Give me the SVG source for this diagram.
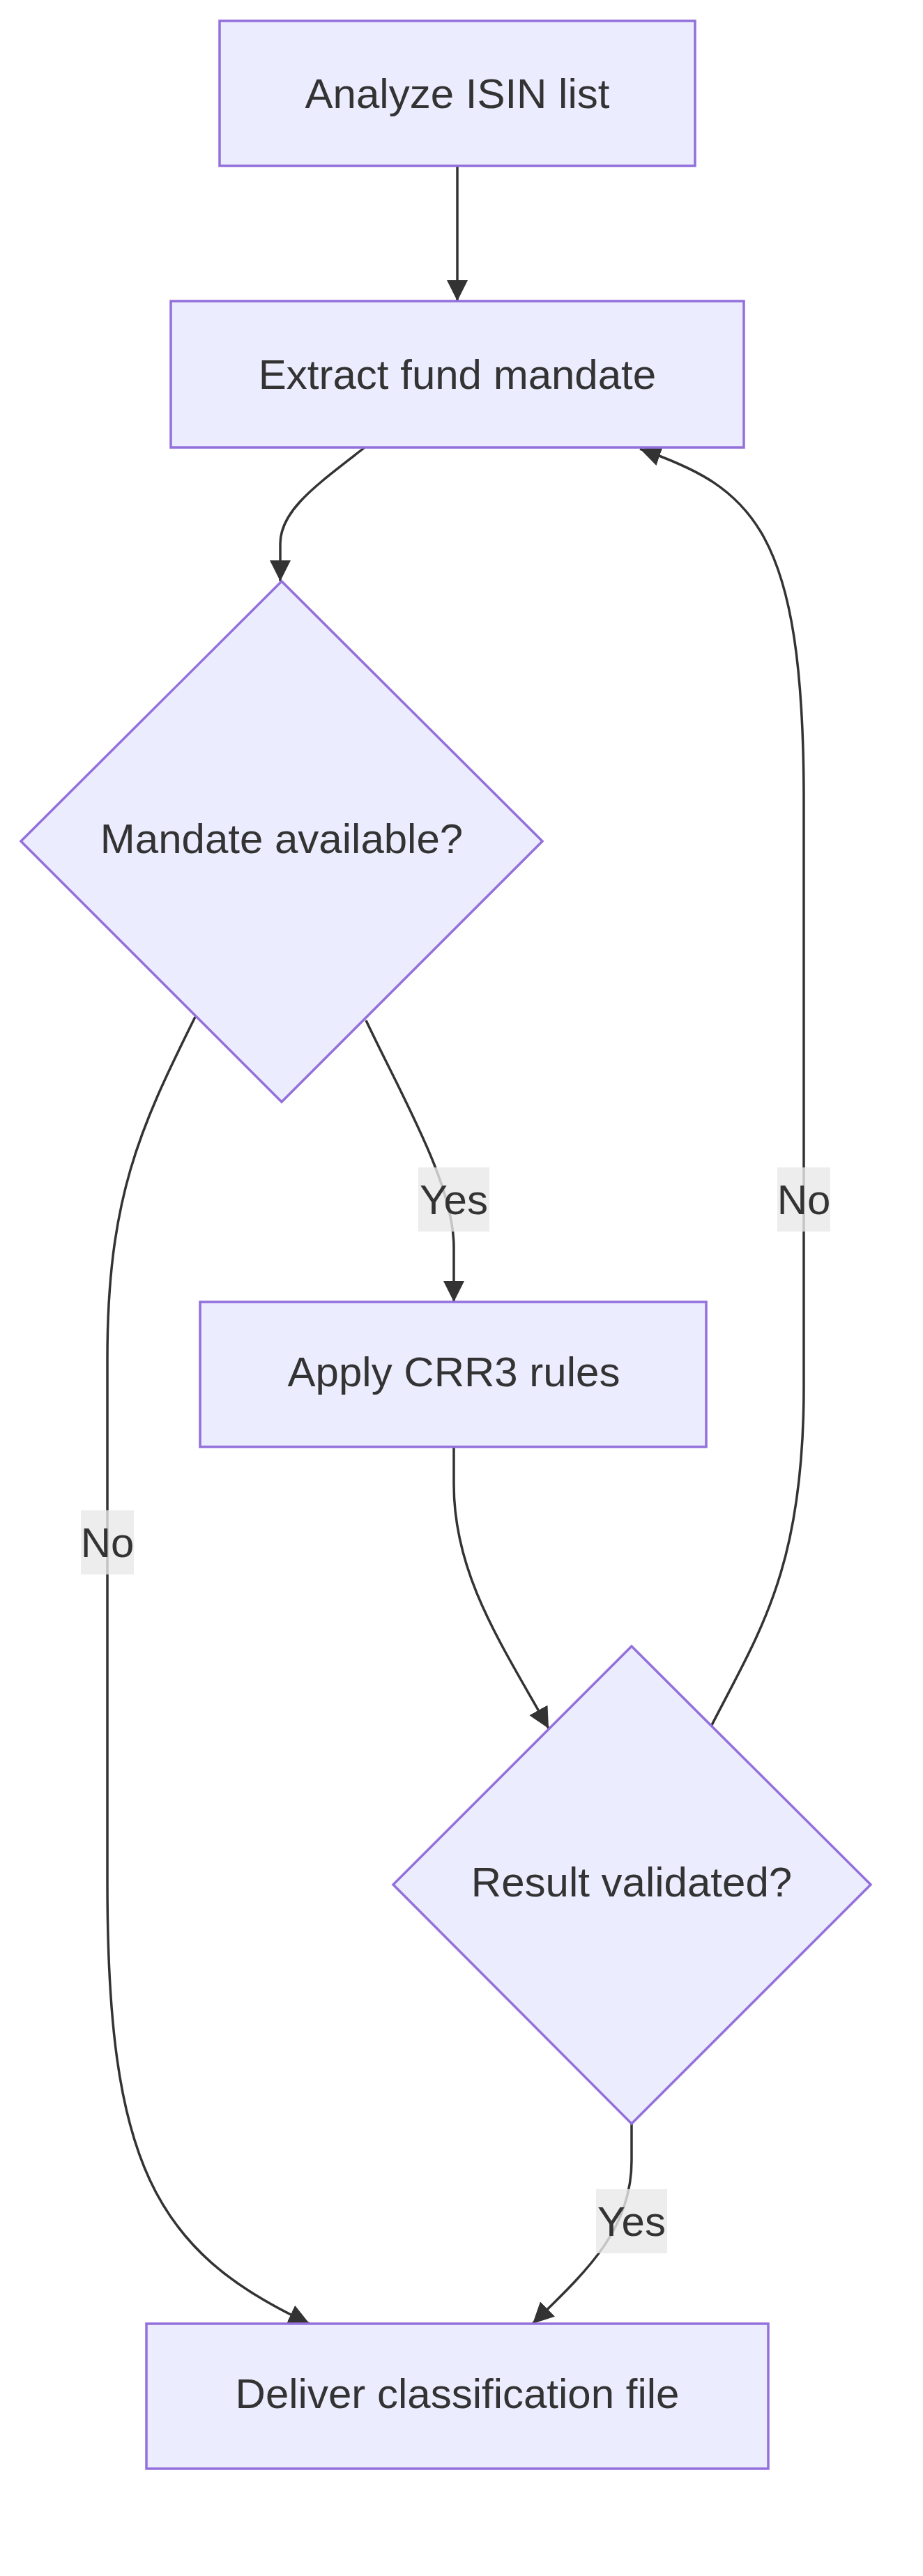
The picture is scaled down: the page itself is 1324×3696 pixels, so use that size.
<svg xmlns="http://www.w3.org/2000/svg" width="1324" height="3696" viewBox="0 0 1324 3696">
<style>
.n{fill:#ECECFF;stroke:#9370DB;stroke-width:3.5}
.t{font-family:"Liberation Sans",Arial,sans-serif;font-size:60px;fill:#333;text-anchor:middle;dominant-baseline:central}
.e{fill:none;stroke:#333;stroke-width:3.5}
.lb{fill:#e8e8e8;opacity:0.8}
</style>
<defs>
<marker id="a" viewBox="0 0 10 10" refX="10" refY="5" markerUnits="userSpaceOnUse" markerWidth="30" markerHeight="30" orient="auto">
<path d="M0,0 L10,5 L0,10 z" fill="#333"/>
</marker>
</defs>
<rect width="1324" height="3696" fill="#fff"/>
<g id="edges">
<path class="e" marker-end="url(#a)" d="M656,238 L656,432"/>
<path class="e" marker-end="url(#a)" d="M523,642 C460,692 402,730 402,780 L402,834"/>
<path class="e" marker-end="url(#a)" d="M525,1464 C580,1580 651,1700 651,1790 L651,1868"/>
<path class="e" marker-end="url(#a)" d="M651,2076 L651,2130 C651,2260 720,2360 787,2480"/>
<path class="e" marker-end="url(#a)" d="M906,3047 L906,3100 C906,3200 840,3260 764,3334"/>
<path class="e" marker-end="url(#a)" d="M1020,2477 C1090,2340 1153,2250 1153,1990 L1153,1150 C1153,760 1080,700 918,644"/>
<path class="e" marker-end="url(#a)" d="M280,1459 C200,1620 154,1720 154,1950 L154,2700 C154,3100 220,3230 444,3334"/>
<g id="labels">
<rect class="lb" x="600" y="1675" width="102" height="92"/><text class="t" x="651" y="1721">Yes</text>
<rect class="lb" x="855" y="3141" width="102" height="92"/><text class="t" x="906" y="3187">Yes</text>
<rect class="lb" x="1115" y="1675" width="76" height="92"/><text class="t" x="1153" y="1721">No</text>
<rect class="lb" x="116" y="2167" width="76" height="92"/><text class="t" x="154" y="2213">No</text>
</g>
</g>
<g id="n1"><rect class="n" x="315" y="30" width="682" height="208"/><text class="t" x="656" y="134">Analyze ISIN list</text></g>
<g id="n2"><rect class="n" x="245" y="432" width="822" height="210"/><text class="t" x="656" y="537">Extract fund mandate</text></g>
<g id="d1"><polygon class="n" points="404,834 778,1207 404,1581 30,1207"/><text class="t" x="404" y="1203">Mandate available?</text></g>
<g id="n3"><rect class="n" x="287" y="1868" width="726" height="208"/><text class="t" x="651" y="1968">Apply CRR3 rules</text></g>
<g id="d2"><polygon class="n" points="906,2362 1249,2704 906,3047 564,2704"/><text class="t" x="906" y="2700">Result validated?</text></g>
<g id="n4"><rect class="n" x="210" y="3334" width="892" height="208"/><text class="t" x="656" y="3434">Deliver classification file</text></g>
</svg>
